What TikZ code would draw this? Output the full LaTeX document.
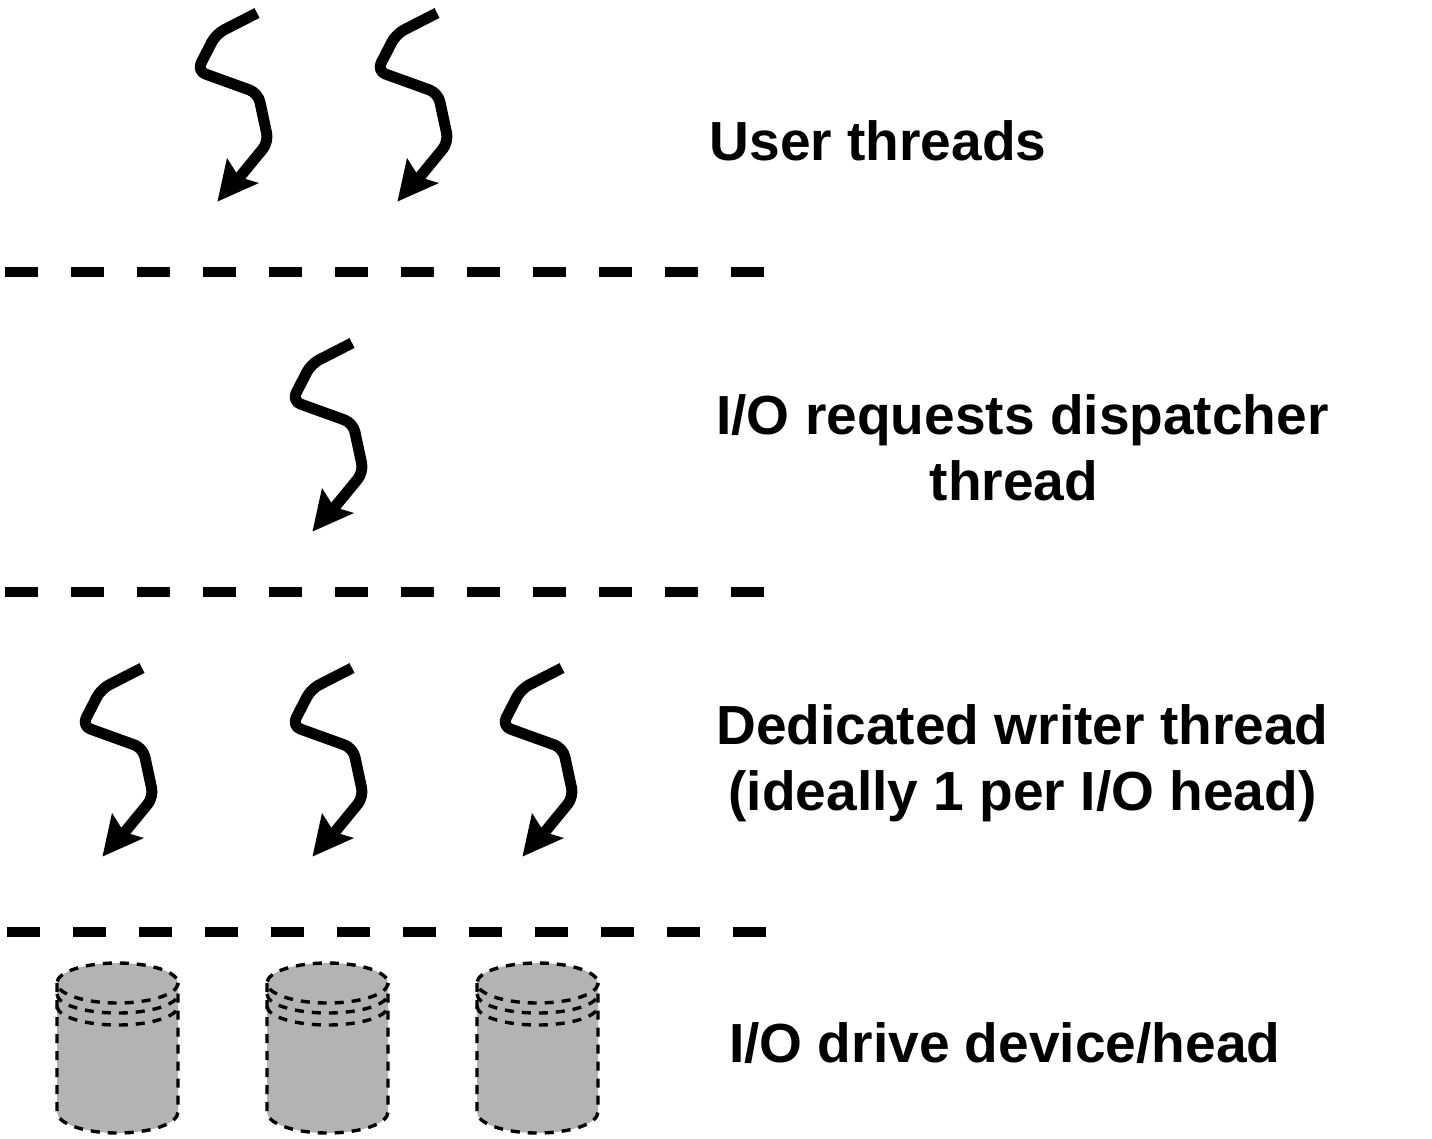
\documentclass[tikz,border=0pt]{standalone}
\usepackage{fontspec}
\setmainfont{Liberation Sans}
\definecolor{cylgrey}{HTML}{B3B3B3}
\tikzset{
  x=1pt,y=-1pt,
  lbl/.style={inner sep=0pt,anchor=base,font=\fontsize{55.1}{66}\bfseries\selectfont,text=black},
  lblw/.style={inner sep=0pt,anchor=base west,font=\fontsize{55.1}{66}\bfseries\selectfont,text=black},
  sep/.style={draw=black,line width=10.6pt,dash pattern=on 33pt off 33pt},
  cyldash/.style={draw=black,line width=3.4pt,dash pattern=on 9pt off 8pt},
  threadline/.style={draw=black,line width=11pt,rounded corners=9pt,line join=round},
  pics/thread/.style={code={
    \draw[threadline] (0,0) -- (-41,21) -- (-60,58) -- (1,80) -- (11.5,129) -- (-18,165);
    \fill[black] (-39.5,188.5) -- (-30,145) -- (-18,164) -- (2,170) -- cycle;
  }},
  pics/drum/.style={code={
    \fill[cylgrey] (-60.5,20) arc[start angle=180,end angle=360,x radius=60.5,y radius=20]
      -- (60.5,149) arc[start angle=0,end angle=180,x radius=60.5,y radius=21] -- cycle;
    \draw[cyldash] (-60.5,20) -- (-60.5,149) arc[start angle=180,end angle=0,x radius=60.5,y radius=21] -- (60.5,20);
    \draw[cyldash] (0,20) ellipse[x radius=60.5,y radius=20];
    \draw[cyldash] (-60.5,31) arc[start angle=180,end angle=0,x radius=60.5,y radius=19];
    \draw[cyldash] (-60.5,43) arc[start angle=180,end angle=0,x radius=60.5,y radius=19];
  }}
}
\begin{document}
\begin{tikzpicture}
\useasboundingbox (0,0) rectangle (1432,1138);
\pic at (257,13) {thread};
\pic at (437,13) {thread};
\pic at (352,343) {thread};
\pic at (142,668) {thread};
\pic at (352,668) {thread};
\pic at (562,668) {thread};
\coordinate (s1a) at (5,272); \coordinate (s1b) at (765,272);
\coordinate (s2a) at (5,592); \coordinate (s2b) at (765,592);
\coordinate (s3a) at (7,932); \coordinate (s3b) at (767,932);
\draw[sep] (s1a) -- (s1b);
\draw[sep] (s2a) -- (s2b);
\draw[sep] (s3a) -- (s3b);
\pic at (117.5,963) {drum};
\pic at (327.5,963) {drum};
\pic at (537.5,963) {drum};
\node[lblw] (user) at (709.5,160) {User threads};
\node[lbl] (disp1) at (1022.5,434) {I/O requests dispatcher};
\node[lbl] (disp2) at (1014,500) {thread};
\node[lbl] (ded1) at (1022.5,744) {Dedicated writer thread};
\node[lbl] (ded2) at (1022.5,810) {(ideally 1 per I/O head)};
\node[lblw] (drv) at (729,1062) {I/O drive device/head};
\end{tikzpicture}
\end{document}
